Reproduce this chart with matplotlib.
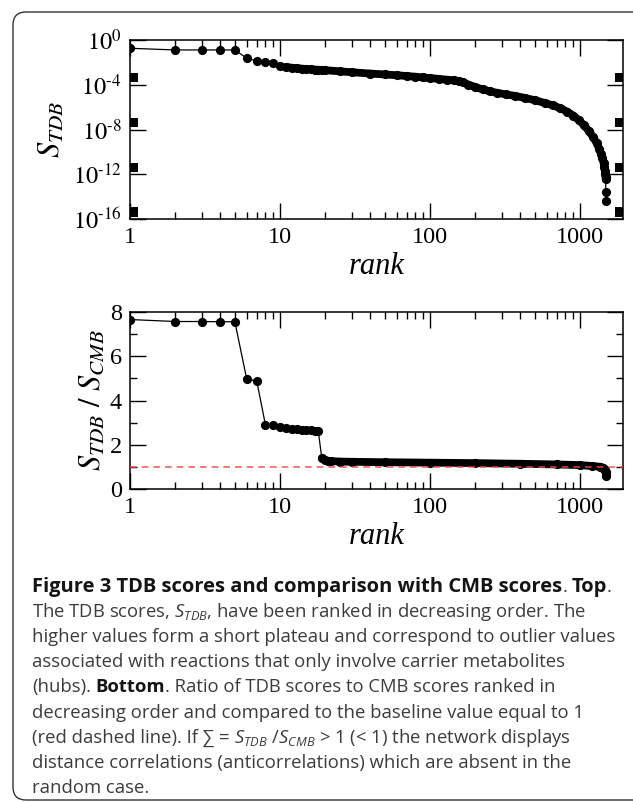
import numpy as np
import matplotlib
matplotlib.use("Agg")
import matplotlib.pyplot as plt
from matplotlib.patches import FancyBboxPatch
from matplotlib.ticker import FixedLocator, NullFormatter

# ── Data ─────────────────────────────────────────────────────
rank_tdb = [1, 2, 3, 4, 5, 6, 7, 8, 9, 10, 11, 12, 13, 14, 15, 16, 17, 18, 19, 20,
            25, 30, 40, 50, 60, 70, 80, 90, 100, 115, 130, 145, 155, 165, 180,
            200, 225, 250, 280, 320, 370, 430, 500, 580, 660, 740, 820, 900,
            980, 1060, 1140, 1220, 1290, 1340, 1380, 1410, 1435, 1452, 1465,
            1474, 1480, 1484, 1485, 1486]
log_tdb = [-0.74, -0.89, -0.89, -0.89, -0.89, -1.63, -1.87, -1.96, -2.07, -2.30,
           -2.40, -2.48, -2.52, -2.56, -2.60, -2.62, -2.64, -2.66, -2.68, -2.70,
           -2.80, -2.88, -3.00, -3.08, -3.15, -3.22, -3.28, -3.35, -3.40, -3.48,
           -3.55, -3.60, -3.66, -3.78, -3.98, -4.20, -4.42, -4.58, -4.72, -4.86,
           -5.00, -5.18, -5.38, -5.62, -5.85, -6.10, -6.40, -6.75, -7.15, -7.60,
           -8.10, -8.65, -9.20, -9.70, -10.15, -10.55, -10.95, -11.35, -11.70,
           -12.00, -12.25, -12.45, -13.55, -14.35]
s_tdb = [10 ** v for v in log_tdb]

rank_ratio = [1, 2, 3, 4, 5, 6, 7, 8, 9, 10, 11, 12, 13, 14, 15, 16, 17, 18, 19, 20,
              21, 22, 25, 30, 50, 100, 200, 400, 700, 1000, 1200, 1350, 1420, 1450,
              1470, 1480, 1485, 1487]
ratio = [7.66, 7.57, 7.57, 7.56, 7.56, 4.97, 4.88, 2.89, 2.88, 2.82, 2.77, 2.73,
         2.71, 2.68, 2.66, 2.65, 2.64, 2.62, 1.38, 1.30, 1.27, 1.26, 1.24, 1.23,
         1.21, 1.19, 1.17, 1.14, 1.11, 1.08, 1.04, 1.01, 0.97, 0.92, 0.85, 0.75,
         0.65, 0.58]
baseline = 1.0

x_ticks = [1, 10, 100, 1000]
x_ticklabels = ["1", "10", "100", "1000"]
y_top_ticks = [1, 1e-4, 1e-8, 1e-12, 1e-16]
y_top_labels = [r"$10^{0}$", r"$10^{\text{-}4}$", r"$10^{\text{-}8}$",
                r"$10^{\text{-}12}$", r"$10^{\text{-}16}$"]
y_bot_ticks = [0, 2, 4, 6, 8]

# ── Style ────────────────────────────────────────────────────
plt.rcParams.update({
    "font.family": "Liberation Serif",
    "mathtext.fontset": "stix",
    "mathtext.rm": "Open Sans",
    "mathtext.it": "Open Sans:italic",
    "mathtext.bf": "Open Sans:bold",
    "axes.linewidth": 1.1,
})

W, H = 633, 802
fig = plt.figure(figsize=(W / 100, H / 100), dpi=100)
fig.patch.set_facecolor("white")

# rounded frame around the whole figure + caption (right side runs off the page)
frame = FancyBboxPatch((0.13, 0.02), 6.40, 7.88,
                       boxstyle="round,pad=0,rounding_size=0.13",
                       transform=fig.dpi_scale_trans, facecolor="none",
                       edgecolor="#333333", linewidth=1.0)
fig.patches.append(frame)


def px_axes(left, top, right, bottom):
    return fig.add_axes([left / W, 1 - bottom / H, (right - left) / W, (bottom - top) / H])


def style_axis(ax):
    ax.set_xscale("log")
    ax.set_xlim(1, 1935)
    ax.xaxis.set_major_locator(FixedLocator(x_ticks))
    ax.set_xticklabels(x_ticklabels)
    minors = [k * 10 ** e for e in range(0, 4) for k in range(2, 10) if k * 10 ** e < 1935]
    ax.xaxis.set_minor_locator(FixedLocator(minors))
    ax.xaxis.set_minor_formatter(NullFormatter())
    ax.tick_params(which="both", direction="in", top=True, right=True, width=1.0,
                   labelsize=17.5, colors="black")
    ax.tick_params(which="major", length=11.5)
    ax.tick_params(which="minor", length=5)
    ax.tick_params(axis="x", pad=6)
    ax.tick_params(axis="y", pad=6)
    ax.set_xlabel("rank", fontsize=22, fontstyle="italic", labelpad=3)


# ── Top panel: S_TDB ─────────────────────────────────────────
ax1 = px_axes(130, 40, 623, 219)
style_axis(ax1)
ax1.set_yscale("log")
ax1.set_ylim(1e-16, 1)
ax1.yaxis.set_major_locator(FixedLocator(y_top_ticks))
ax1.set_yticklabels(y_top_labels)
ymin = [k * 10.0 ** e for e in (-4, -8, -12, -16) for k in range(2, 10)]
ax1.yaxis.set_minor_locator(FixedLocator(ymin))
ax1.yaxis.set_minor_formatter(NullFormatter())
ax1.tick_params(axis="y", which="minor", length=5.5, width=1.4)

dense = [i for i, r in enumerate(rank_tdb) if 11 <= r <= 1484]
ax1.plot([rank_tdb[i] for i in dense], [s_tdb[i] for i in dense],
         color="black", lw=5.6, solid_capstyle="round", solid_joinstyle="round")
ax1.plot(rank_tdb, s_tdb, "o-", color="black", ms=5.6, lw=0.9)
ax1.set_ylabel(r"$S_{TDB}$", fontsize=22, labelpad=4)

# ── Bottom panel: S_TDB / S_CMB ─────────────────────────────
ax2 = px_axes(130, 312, 623, 489)
style_axis(ax2)
ax2.set_ylim(0, 8)
ax2.yaxis.set_major_locator(FixedLocator(y_bot_ticks))
ax2.yaxis.set_minor_locator(FixedLocator([1, 3, 5, 7]))
ax2.yaxis.set_minor_formatter(NullFormatter())

dense = [i for i, r in enumerate(rank_ratio) if 18 < r <= 1480]
ax2.plot([rank_ratio[i] for i in dense], [ratio[i] for i in dense],
         color="black", lw=5.6, solid_capstyle="round", solid_joinstyle="round")
ax2.plot(rank_ratio, ratio, "o-", color="black", ms=5.6, lw=0.9)
ax2.axhline(baseline, color="#f04a3c", lw=1.2, ls=(0, (4, 3)), alpha=0.85, zorder=5)
ax2.set_ylabel(r"$S_{TDB}\ /\ S_{CMB}$", fontsize=22, labelpad=2)

# ── Caption ──────────────────────────────────────────────────
renderer = fig.canvas.get_renderer()
title_size = 14.5
reg_size = 13.3
reg_col = "#3c3c3c"
bold_col = "#141414"


def cap_text(x, y, s, bold=False, size=reg_size):
    return fig.text(x / W, 1 - y / H, s, fontsize=size,
                    family=["Open Sans", "DejaVu Sans"],
                    fontweight="bold" if bold else "normal",
                    color=bold_col if bold else reg_col,
                    va="baseline", ha="left", math_fontfamily="custom")


probe1 = cap_text(0, 0, "x x")
probe2 = cap_text(0, 0, "xx")
space_w = probe1.get_window_extent(renderer).width - probe2.get_window_extent(renderer).width
probe1.remove()
probe2.remove()


def put_line(y, pieces):
    x = 32
    for s, bold, size in pieces:
        lead = len(s) - len(s.lstrip(" "))
        trail = len(s) - len(s.rstrip(" "))
        x += lead * space_w
        t = cap_text(x, y, s.strip(" "), bold, size)
        x += t.get_window_extent(renderer).width + trail * space_w


R, T = reg_size, title_size
lines = [
    [("Figure 3 TDB scores and comparison with CMB scores", True, T), (". ", False, R),
     ("Top", True, T), (".", False, R)],
    [("The TDB scores, $S_{TDB}$, have been ranked in decreasing order. The", False, R)],
    [("higher values form a short plateau and correspond to outlier values", False, R)],
    [("associated with reactions that only involve carrier metabolites", False, R)],
    [("(hubs). ", False, R), ("Bottom", True, R),
     (". Ratio of TDB scores to CMB scores ranked in", False, R)],
    [("decreasing order and compared to the baseline value equal to 1", False, R)],
    [("(red dashed line). If \u2211 = ", False, R),
     ("$S_{TDB}$ /$S_{CMB}$ > 1 (< 1) the network displays", False, R)],
    [("distance correlations (anticorrelations) which are absent in the", False, R)],
    [("random case.", False, R)],
]
y0, dy = 592, 25.1
for i, ln in enumerate(lines):
    put_line(y0 + i * dy, ln)

fig.savefig("out.png", dpi=100)
